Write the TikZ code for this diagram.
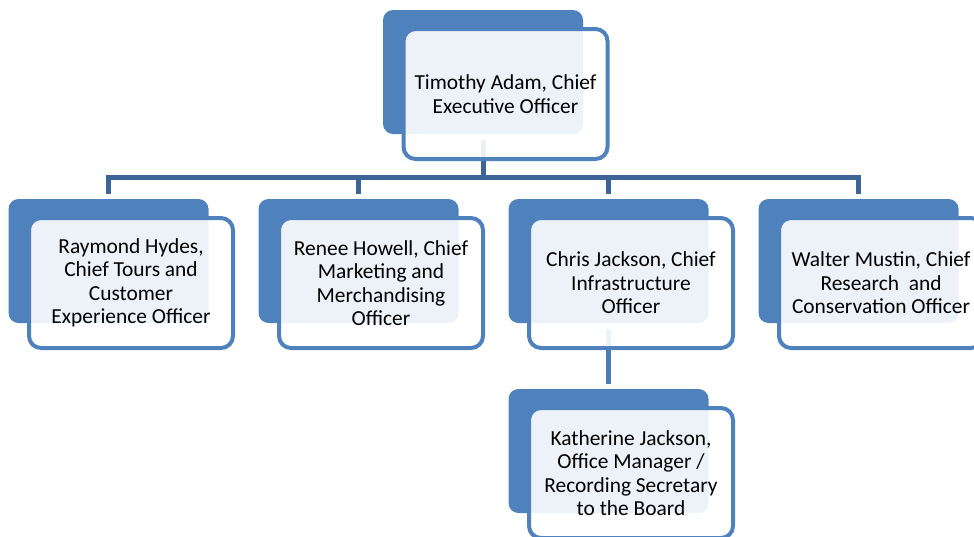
\documentclass[tikz,border=0pt]{standalone}
\usepackage{fontspec}
\setmainfont{Carlito}
\definecolor{chartblue}{RGB}{79,129,189}
\definecolor{busblue}{RGB}{60,100,150}
\definecolor{subblue}{RGB}{76,124,184}
\usetikzlibrary{positioning, calc}

\begin{document}
\begin{tikzpicture}[
        x=1pt, y=-1pt,
        back/.style={rectangle, fill=chartblue, rounded corners=10pt, minimum width=200pt, minimum height=124pt, inner sep=0pt, outer sep=0pt},
        front/.style={rectangle, draw=chartblue, line width=4pt, fill=white, fill opacity=0.9, text opacity=1, rounded corners=12pt, minimum width=204pt, minimum height=130pt, align=center, inner sep=0pt, font=\fontsize{21.4}{23.5}\selectfont},
        link/.style={line width=5pt, busblue},
        sublink/.style={line width=5pt, subblue}
    ]
        \useasboundingbox (0,0) rectangle (974,536);
        \clip (0,0) rectangle (974,536);

        % back panels
        \node[back] (ceoback) at (483,72) {};
        \node[back] (b1) at (108.5,261) {};
        \node[back, right=50pt of b1] (b2) {};
        \node[back, right=50pt of b2] (b3) {};
        \node[back, right=50pt of b3] (b4) {};
        \node[back, below=66pt of b3] (b5) {};

        % connectors
        \coordinate (bus) at ($(ceoback.south)+(0,43)$);
        \draw[link] ([yshift=-6pt]ceoback.south) -- (bus);
        \draw[link] ([yshift=5pt]b1.north) |- (bus) -| ([yshift=5pt]b4.north);
        \draw[link] (bus -| b2.north) -- ([yshift=5pt]b2.north);
        \draw[link] (bus -| b3.north) -- ([yshift=5pt]b3.north);
        \draw[sublink] ([yshift=-6pt]b3.south) -- ([yshift=5pt]b5.north);

        % front cards
        \node[front] (ceo) at ($(ceoback)+(22.5,22)$) {Timothy Adam, Chief\\Executive Officer};
        \node[front] (f1) at ($(b1)+(22.5,22)$) {Raymond Hydes,\\Chief Tours and\\Customer\\Experience Officer};
        \node[front] (f2) at ($(b2)+(22.5,22)$) {Renee Howell, Chief\\Marketing and\\Merchandising\\Officer};
        \node[front] (f3) at ($(b3)+(22.5,22)$) {Chris Jackson, Chief\\Infrastructure\\Officer};
        \node[front] (f4) at ($(b4)+(22.5,22)$) {Walter Mustin, Chief\\Research~ and\\Conservation Officer};
        \node[front] (f5) at ($(b5)+(22.5,22)$) {Katherine Jackson,\\Office Manager /\\Recording Secretary\\to the Board};
    \end{tikzpicture}
\end{document}
